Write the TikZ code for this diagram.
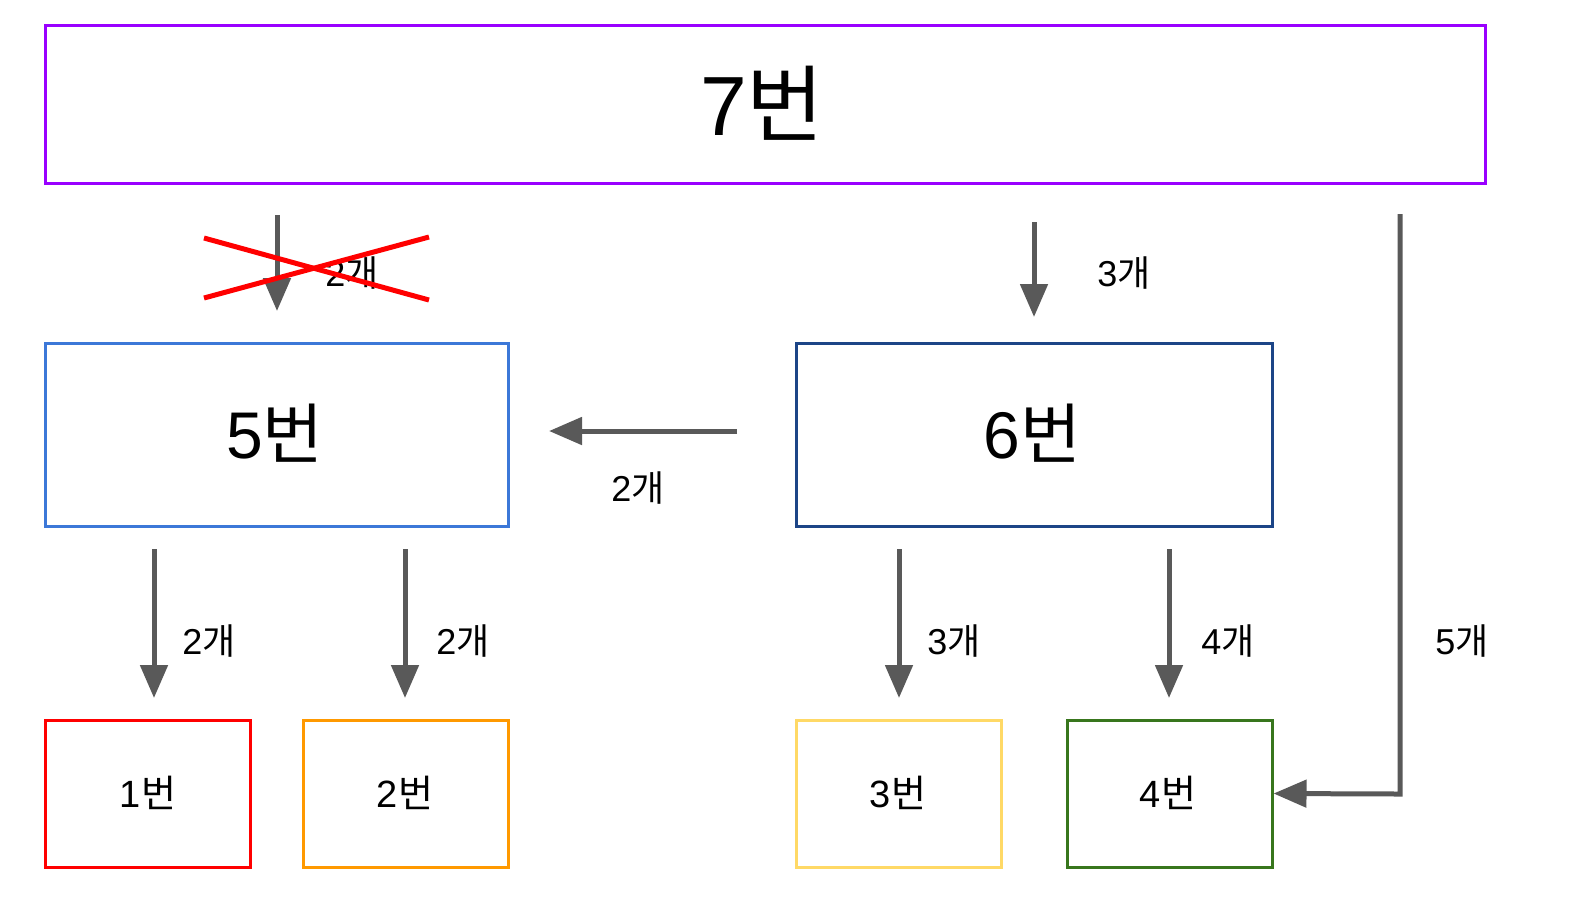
\documentclass[tikz,border=0pt]{standalone}
\usepackage{fontspec}
\setmainfont{Liberation Sans}
\newfontfamily\krfont{Noto Sans CJK KR}
\newcommand{\kr}[1]{{\krfont #1}}
\usetikzlibrary{arrows.meta}
\definecolor{cpurple}{HTML}{9900FF}
\definecolor{cblue}{HTML}{3C78D8}
\definecolor{cdblue}{HTML}{1C4587}
\definecolor{cred}{HTML}{FF0000}
\definecolor{corange}{HTML}{FF9900}
\definecolor{cyellow}{HTML}{FFD966}
\definecolor{cgreen}{HTML}{38761D}
\definecolor{cgray}{HTML}{595959}
\tikzset{
  box/.style={draw, line width=1.5pt, inner sep=0pt},
  conn/.style={draw=cgray, line width=2.5pt, -{Triangle[length=16.5pt,width=13.5pt]}},
  lbl/.style={font=\fontsize{18pt}{20pt}\selectfont, inner sep=0pt},
  big/.style={font=\fontsize{42pt}{46pt}\selectfont},
  mid/.style={font=\fontsize{33pt}{37pt}\selectfont},
  small/.style={font=\fontsize{19pt}{21pt}\selectfont},
}
\begin{document}
\begin{tikzpicture}[x=0.5pt,y=-0.5pt]
\useasboundingbox (0,0) rectangle (1593,918);
% boxes
\node[box, draw=cpurple, minimum width=720pt, minimum height=79pt] (n7) at (765,104) {};
\node[big] (t7) at (762,103) {7\kr{번}};
\node[box, draw=cblue, minimum width=231.5pt, minimum height=91.5pt] (n5) at (276.5,434.5) {};
\node[mid] (t5) at (275,433) {5\kr{번}};
\node[box, draw=cdblue, minimum width=238pt, minimum height=91.5pt] (n6) at (1034,434.5) {};
\node[mid] (t6) at (1032,433) {6\kr{번}};
\node[box, draw=cred, minimum width=102.5pt, minimum height=73.5pt] (n1) at (147.5,793.5) {};
\node[small] (t1) at (148,793) {1\kr{번}};
\node[box, draw=corange, minimum width=102.5pt, minimum height=73.5pt] (n2) at (405.5,793.5) {};
\node[small] (t2) at (405,793) {2\kr{번}};
\node[box, draw=cyellow, minimum width=102.5pt, minimum height=73.5pt] (n3) at (898.5,793.5) {};
\node[small] (t3) at (898,793) {3\kr{번}};
\node[box, draw=cgreen, minimum width=102.5pt, minimum height=73.5pt] (n4) at (1169.5,793.5) {};
\node[small] (t4) at (1168,793) {4\kr{번}};
% coordinates
\coordinate (a1s) at (277,215); \coordinate (a1e) at (277,311);
\coordinate (a2s) at (1034,222); \coordinate (a2e) at (1034,317);
\coordinate (a3s) at (737,431); \coordinate (a3e) at (549,431);
\coordinate (a4s) at (154,549); \coordinate (a4e) at (154,698);
\coordinate (a5s) at (405,549); \coordinate (a5e) at (405,698);
\coordinate (a6s) at (899,549); \coordinate (a6e) at (899,698);
\coordinate (a7s) at (1169,549); \coordinate (a7e) at (1169,698);
\coordinate (a8s) at (1400,214); \coordinate (a8c) at (1400,794);
\coordinate (x1a) at (204,238); \coordinate (x1b) at (429,300);
\coordinate (x2a) at (204,298); \coordinate (x2b) at (429,237);
% arrows
\draw[conn] (a1s) -- (a1e);
\node[lbl] (l1) at (352,273) {2\kr{개}};
\draw[draw=cred, line width=2.5pt] (x1a) -- (x1b);
\draw[draw=cred, line width=2.5pt] (x2a) -- (x2b);
\draw[conn] (a2s) -- (a2e);
\node[lbl] (l2) at (1124,273) {3\kr{개}};
\draw[conn] (a3s) -- (a3e);
\node[lbl] (l3) at (638,488) {2\kr{개}};
\draw[conn] (a4s) -- (a4e);
\node[lbl] (l4) at (209,641) {2\kr{개}};
\draw[conn] (a5s) -- (a5e);
\node[lbl] (l5) at (463,641) {2\kr{개}};
\draw[conn] (a6s) -- (a6e);
\node[lbl] (l6) at (954,641) {3\kr{개}};
\draw[conn] (a7s) -- (a7e);
\node[lbl] (l7) at (1228,641) {4\kr{개}};
\draw[conn] (a8s) -- (a8c) -- (n4.east);
\node[lbl] (l8) at (1462,641) {5\kr{개}};
\end{tikzpicture}
\end{document}
